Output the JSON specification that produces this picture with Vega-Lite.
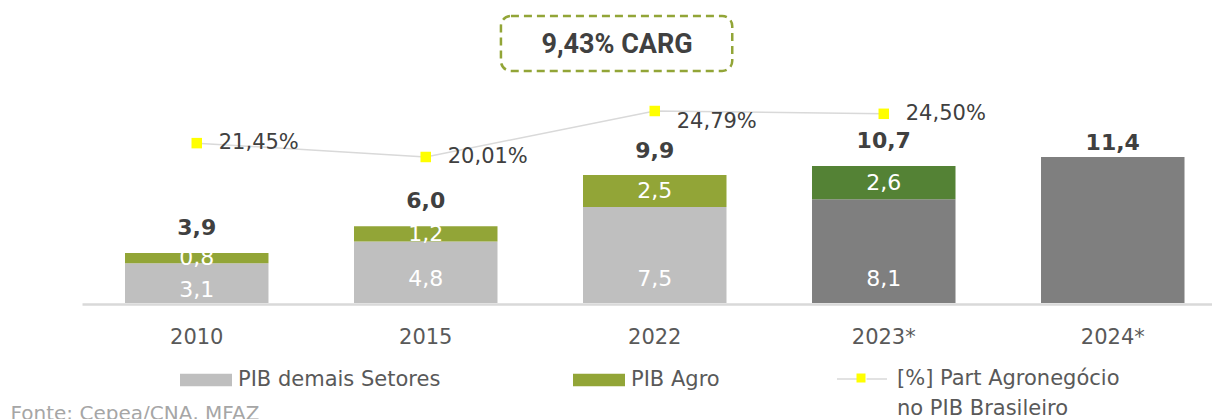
{
  "$schema": "https://vega.github.io/schema/vega-lite/v6.json",
  "width": 1130,
  "height": 303,
  "autosize": "none",
  "padding": {"left": 82, "top": 0, "right": 0, "bottom": 116},
  "background": "white",
  "config": {
    "view": {"stroke": null},
    "font": "DejaVu Sans",
    "locale": {"number": {"decimal": ",", "thousands": ".", "grouping": [3], "currency": ["R$ ", ""]}},
    "style": {"guide-label": {"lineHeight": 30}}
  },
  "datasets": {
    "barras": [
      {"ano": "2010", "grupo": "PIB demais Setores", "ordem": 1, "valor": 3.1},
      {"ano": "2010", "grupo": "PIB Agro", "ordem": 2, "valor": 0.8},
      {"ano": "2015", "grupo": "PIB demais Setores", "ordem": 1, "valor": 4.8},
      {"ano": "2015", "grupo": "PIB Agro", "ordem": 2, "valor": 1.2},
      {"ano": "2022", "grupo": "PIB demais Setores", "ordem": 1, "valor": 7.5},
      {"ano": "2022", "grupo": "PIB Agro", "ordem": 2, "valor": 2.5},
      {"ano": "2023*", "grupo": "PIB demais Setores (proj.)", "ordem": 1, "valor": 8.1},
      {"ano": "2023*", "grupo": "PIB Agro (proj.)", "ordem": 2, "valor": 2.6},
      {"ano": "2024*", "grupo": "PIB total (proj.)", "ordem": 1, "valor": 11.4}
    ],
    "totais": [
      {"ano": "2010", "total": 3.9},
      {"ano": "2015", "total": 6.0},
      {"ano": "2022", "total": 9.9},
      {"ano": "2023*", "total": 10.7},
      {"ano": "2024*", "total": 11.4}
    ],
    "part": [
      {"ano": "2010", "part": 0.2145},
      {"ano": "2015", "part": 0.2001},
      {"ano": "2022", "part": 0.2479},
      {"ano": "2023*", "part": 0.2450}
    ]
  },
  "encoding": {
    "x": {
      "field": "ano",
      "type": "nominal",
      "scale": {"domain": ["2010", "2015", "2022", "2023*", "2024*"], "paddingInner": 0.3734, "paddingOuter": 0.1539, "align": 0.61},
      "axis": {
        "title": "Fonte: Cepea/CNA, MFAZ",
        "titleX": -72,
        "titleY": 109,
        "titleAlign": "left",
        "titleAnchor": null,
        "titleBaseline": "middle",
        "titleFontSize": 20,
        "titleFontWeight": "normal",
        "titleColor": "#A6A6A6",
        "titleFont": "DejaVu Sans",
        "labelAngle": 0,
        "labelFont": "DejaVu Sans",
        "labelFontSize": 21,
        "labelColor": "#595959",
        "labelPadding": 22,
        "ticks": false,
        "offset": 1,
        "domainColor": "#D9D9D9",
        "domainWidth": 2.5
      }
    }
  },
  "layer": [
    {
      "layer": [
        {
          "data": {"name": "barras"},
          "mark": {"type": "bar"},
          "encoding": {
            "y": {"field": "valor", "type": "quantitative", "stack": "zero", "scale": {"domain": [0, 23.67], "nice": false}, "axis": null},
            "color": {
              "field": "grupo",
              "type": "nominal",
              "scale": {
                "domain": ["PIB demais Setores", "PIB Agro", "PIB demais Setores (proj.)", "PIB Agro (proj.)", "PIB total (proj.)"],
                "range": ["#BFBFBF", "#92A537", "#7F7F7F", "#548235", "#7F7F7F"]
              },
              "legend": {
                "orient": "none",
                "legendX": 98,
                "legendY": 354,
                "title": null,
                "columns": 2,
                "values": ["PIB demais Setores", "PIB Agro"],
                "symbolType": "M-1,-0.24H1V0.24H-1Z",
                "symbolSize": 2704,
                "symbolStrokeWidth": 0,
                "labelFont": "DejaVu Sans",
                "labelFontSize": 21,
                "labelColor": "#595959",
                "labelOffset": 6,
                "labelLimit": 500,
                "columnPadding": 132,
                "padding": 0
              }
            },
            "order": {"field": "ordem"}
          }
        },
        {
          "data": {"name": "barras"},
          "mark": {"type": "text", "color": "white", "fontSize": 22, "font": "DejaVu Sans"},
          "encoding": {
            "y": {"field": "valor", "type": "quantitative", "stack": "zero", "bandPosition": 0.5, "scale": {"domain": [0, 23.67], "nice": false}},
            "detail": {"field": "grupo"},
            "order": {"field": "ordem"},
            "text": {"condition": {"test": "datum.ordem == 2", "field": "valor", "format": ".1f"}, "value": ""}
          }
        },
        {
          "data": {"name": "barras"},
          "transform": [{"filter": "datum.ordem == 1 && datum.ano != '2024*' && datum.ano != '2010'"}],
          "mark": {"type": "text", "color": "white", "fontSize": 22, "font": "DejaVu Sans", "dy": -24},
          "encoding": {
            "y": {"datum": 0, "type": "quantitative", "scale": {"domain": [0, 23.67], "nice": false}},
            "text": {"field": "valor", "format": ".1f"}
          }
        },
        {
          "data": {"name": "barras"},
          "transform": [{"filter": "datum.ordem == 1 && datum.ano == '2010'"}],
          "mark": {"type": "text", "color": "white", "fontSize": 22, "font": "DejaVu Sans", "dy": -13},
          "encoding": {
            "y": {"datum": 0, "type": "quantitative", "scale": {"domain": [0, 23.67], "nice": false}},
            "text": {"field": "valor", "format": ".1f"}
          }
        },
        {
          "data": {"name": "totais"},
          "transform": [{"filter": "datum.ano != '2024*'"}],
          "mark": {"type": "text", "color": "#404040", "fontSize": 22, "fontWeight": "bold", "font": "DejaVu Sans", "dy": -25},
          "encoding": {
            "y": {"field": "total", "type": "quantitative", "scale": {"domain": [0, 23.67], "nice": false}},
            "text": {"field": "total", "format": ".1f"}
          }
        },
        {
          "data": {"name": "totais"},
          "transform": [{"filter": "datum.ano == '2024*'"}],
          "mark": {"type": "text", "color": "#404040", "fontSize": 22, "fontWeight": "bold", "font": "DejaVu Sans", "dy": -14},
          "encoding": {
            "y": {"field": "total", "type": "quantitative", "scale": {"domain": [0, 23.67], "nice": false}},
            "text": {"field": "total", "format": ".1f"}
          }
        },
        {
          "data": {"values": [{"rotulo": "9,43% CARG"}]},
          "mark": {"type": "rect", "fill": "white", "stroke": "#92A537", "strokeWidth": 2.5, "strokeDash": [8, 5], "cornerRadius": 10},
          "encoding": {
            "x": {"datum": "2015", "bandPosition": 1.024},
            "x2": {"datum": "2022", "bandPosition": 1.04},
            "y": {"datum": 22.42, "type": "quantitative", "scale": {"domain": [0, 23.67], "nice": false}},
            "y2": {"datum": 18.125}
          }
        },
        {
          "data": {"values": [{"rotulo": "9,43% CARG"}]},
          "mark": {"type": "text", "font": "Roboto", "fontWeight": "bold", "fontSize": 27, "color": "#404040"},
          "encoding": {
            "x": {"datum": "2015", "bandPosition": 1.833},
            "y": {"datum": 20.16, "type": "quantitative", "scale": {"domain": [0, 23.67], "nice": false}},
            "text": {"field": "rotulo"}
          }
        }
      ]
    },
    {
      "layer": [
        {
          "data": {"name": "part"},
          "mark": {"type": "line", "strokeWidth": 1.5},
          "encoding": {
            "y": {"field": "part", "type": "quantitative", "scale": {"domain": [0.0483, 0.3633], "nice": false, "zero": false}, "axis": null},
            "stroke": {
              "datum": "linha",
              "scale": {"range": ["#D9D9D9"]},
              "legend": {
                "orient": "none",
                "legendX": 754,
                "legendY": 353,
                "title": null,
                "symbolType": "M-1,0H-0.18M0.18,0H1",
                "symbolSize": 2500,
                "symbolStrokeWidth": 1.5,
                "symbolStrokeColor": "#D9D9D9",
                "labelExpr": "['[%] Part Agronegócio', 'no PIB Brasileiro']",
                "labelFont": "DejaVu Sans",
                "labelFontSize": 21,
                "labelColor": "#595959",
                "labelOffset": 9,
                "labelLimit": 500,
                "padding": 0
              }
            }
          }
        },
        {
          "data": {"name": "part"},
          "mark": {"type": "point", "filled": true, "opacity": 1, "size": 110, "strokeWidth": 0, "shape": "square"},
          "encoding": {
            "y": {"field": "part", "type": "quantitative", "scale": {"domain": [0.0483, 0.3633], "nice": false, "zero": false}},
            "fill": {
              "datum": "marcador",
              "scale": {"range": ["#FFFF00"]},
              "legend": {
                "orient": "none",
                "legendX": 754,
                "legendY": 353,
                "title": null,
                "symbolType": "M-0.18,-0.18H0.18V0.18H-0.18Z",
                "symbolSize": 2500,
                "symbolStrokeWidth": 0,
                "symbolOpacity": 1,
                "labelExpr": "['[%] Part Agronegócio', 'no PIB Brasileiro']",
                "labelFont": "DejaVu Sans",
                "labelFontSize": 21,
                "labelOpacity": 0,
                "labelOffset": 9,
                "labelLimit": 500,
                "padding": 0
              }
            }
          }
        },
        {
          "data": {"name": "part"},
          "transform": [{"filter": "datum.ano != '2022'"}],
          "mark": {"type": "text", "align": "left", "dx": 22, "fontSize": 21, "font": "DejaVu Sans", "color": "#404040"},
          "encoding": {
            "y": {"field": "part", "type": "quantitative", "scale": {"domain": [0.0483, 0.3633], "nice": false, "zero": false}},
            "text": {"field": "part", "format": ".2%"}
          }
        },
        {
          "data": {"name": "part"},
          "transform": [{"filter": "datum.ano == '2022'"}],
          "mark": {"type": "text", "align": "left", "dx": 22, "dy": 11, "fontSize": 21, "font": "DejaVu Sans", "color": "#404040"},
          "encoding": {
            "y": {"field": "part", "type": "quantitative", "scale": {"domain": [0.0483, 0.3633], "nice": false, "zero": false}},
            "text": {"field": "part", "format": ".2%"}
          }
        }
      ]
    }
  ],
  "resolve": {"scale": {"y": "independent"}}
}
